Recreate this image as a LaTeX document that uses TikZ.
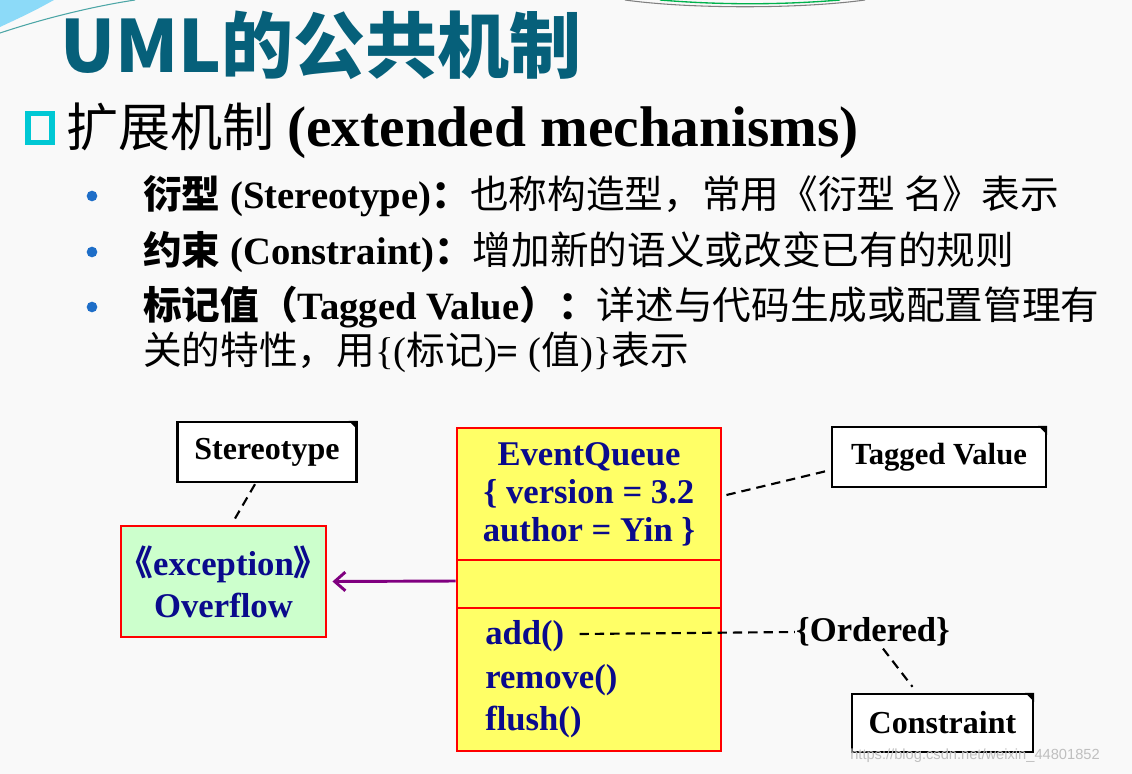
\documentclass[tikz,border=0pt]{standalone}
\usepackage{fontspec}
\setmainfont{Liberation Serif}
\setsansfont{Liberation Sans}
\newfontfamily\cjk{Noto Sans CJK SC}
\usetikzlibrary{calc,arrows.meta}
\definecolor{titleblue}{RGB}{6,96,122}
\definecolor{bulletblue}{RGB}{30,110,200}
\definecolor{boxcyan}{RGB}{0,200,212}
\definecolor{navy}{RGB}{10,10,140}
\definecolor{boxred}{RGB}{255,0,0}
\definecolor{lightyellow}{RGB}{255,255,102}
\definecolor{lightgreen}{RGB}{204,255,204}
\definecolor{arrowpurple}{RGB}{128,0,128}
\definecolor{slidebg}{RGB}{249,249,249}

\begin{document}
\begin{tikzpicture}[x=0.75pt, y=-0.75pt,
	line/.style = {anchor=west, inner sep=0pt, font=\fontsize{29}{34}\selectfont},
	classbox/.style = {shape=rectangle, draw=boxred, line width=2.2pt, fill=lightyellow, minimum width=198pt, inner sep=0pt},
	member/.style = {anchor=west, inner sep=0pt, text=navy, font=\fontsize{26}{30}\selectfont\bfseries},
	notebox/.style = {shape=rectangle, draw, line width=1.8pt, fill=white, inner sep=0pt, font=\fontsize{24}{28}\selectfont\bfseries},
	link/.style = {dashed, line width=1.6pt, dash pattern=on 7pt off 4.5pt}]
	\useasboundingbox (0,0) rectangle (1132,774);
	\fill[slidebg] (0,0) rectangle (1132,774);
	\fill[cyan!45] (0,0) -- (54,0) .. controls (32,12) .. (0,27) -- cycle;
	\draw[teal!70, line width=0.8pt] (0,33) .. controls (45,18) and (95,6) .. (135,0);
	\draw[gray, line width=0.8pt] (625,0) .. controls (690,9) and (800,9) .. (865,0);
	\draw[teal!60!green, line width=1pt] (660,0) .. controls (720,5) and (780,5) .. (840,0);

	\node[anchor=west, inner sep=0pt, text=titleblue, font=\cjk\bfseries\fontsize{54}{60}\selectfont] (title) at (60,45) {UML的公共机制};
	\node[draw=boxcyan, line width=4pt, minimum width=18pt, minimum height=22pt, inner sep=0pt] (square) at (40,128) {};
	\node[anchor=west, inner sep=0pt, font=\fontsize{39}{46}\selectfont] (subtitle) at (66,131) {{\cjk 扩展机制} {\fontsize{43}{46}\selectfont\bfseries (extended mechanisms)}};

	\foreach \y in {196,252,307} \fill[bulletblue] (92,\y) circle[radius=4pt];
	\node[line] (stereoline) at (143,196) {{\cjk\bfseries 衍型} \textbf{(Stereotype)}{\cjk\bfseries ：}{\cjk 也称构造型，常用《衍型 名》表示}};
	\node[line] (constraintline) at (143,252) {{\cjk\bfseries 约束} \textbf{(Constraint)}{\cjk\bfseries ：}{\cjk 增加新的语义或改变已有的规则}};
	\node[line] (taggedline) at (143,307) {{\cjk\bfseries 标记值（}\textbf{Tagged Value}{\cjk\bfseries ）：}{\cjk 详述与代码生成或配置管理有}};
	\node[line] (taggedmore) at (143,352) {{\cjk 关的特性，用}\{({\cjk 标记})\textbf{=} ({\cjk 值})\}{\cjk 表示}};

	\node[classbox, minimum height=99pt, align=center, text=navy, font=\fontsize{26}{28.5}\selectfont\bfseries] (eqname) at (589,494) {EventQueue\\\{ version = 3.2\\author = Yin \}};
	\node[classbox, minimum height=36pt] (eqattr) at (589,584) {};
	\node[classbox, minimum height=107.25pt] (eqops) at (589,679.5) {};
	\node[member] (opadd) at (485,636) {add()};
	\node[member] (opremove) at (485,680) {remove()};
	\node[member] (opflush) at (485,722) {flush()};

	\node[shape=rectangle, draw=boxred, line width=2.2pt, fill=lightgreen, minimum width=153.75pt, minimum height=83.25pt, align=center, text=navy, font=\fontsize{26}{31.5}\selectfont\bfseries] (overflow) at (223.5,581.5) {{\cjk\kern-0.4em《}exception{\cjk》\kern-0.4em}\\Overflow};

	\node[notebox, minimum width=134.25pt, minimum height=45pt] (stereo) at (267,452) {Stereotype};
	\node[notebox, minimum width=160.5pt, minimum height=45pt, font=\fontsize{23}{27}\selectfont\bfseries] (tagged) at (939,457) {Tagged Value};
	\node[notebox, minimum width=135.75pt, minimum height=43.5pt] (constraint) at (942.5,723) {Constraint};
	\node[inner sep=0pt, font=\fontsize{26}{30}\selectfont\bfseries] (ordered) at (873,632) {\{Ordered\}};
	\foreach \n in {stereo,tagged,constraint}
		\fill ($(\n.north east)+(-9,0)$) -- (\n.north east) -- ($(\n.north east)+(0,9)$) -- cycle;

	\draw[link] ($(stereo.south)+(-12,1)$) -- ($(overflow.north)+(11.5,-6)$);
	\draw[link] ($(eqname.east)+(4,1)$) -- ($(tagged.west)+(0,13)$);
	\draw[link] ($(opadd.east)+(15,-2)$) -- ($(ordered.west)+(-1,0)$);
	\draw[link] ($(ordered.south)+(10,2)$) -- ($(constraint.north)+(-30,-6)$);
	\draw[arrowpurple, line width=2.2pt, -{Straight Barb[length=8pt, width=14pt]}] ($(eqattr.west)+(0,-3)$) -- ($(overflow.east)+(5,0)$);

	\node[anchor=west, inner sep=0pt, text=black!25, font=\sffamily\fontsize{11}{13}\selectfont] (watermark) at (850,756) {https://blog.csdn.net/weixin\_44801852};
\end{tikzpicture}
\end{document}
